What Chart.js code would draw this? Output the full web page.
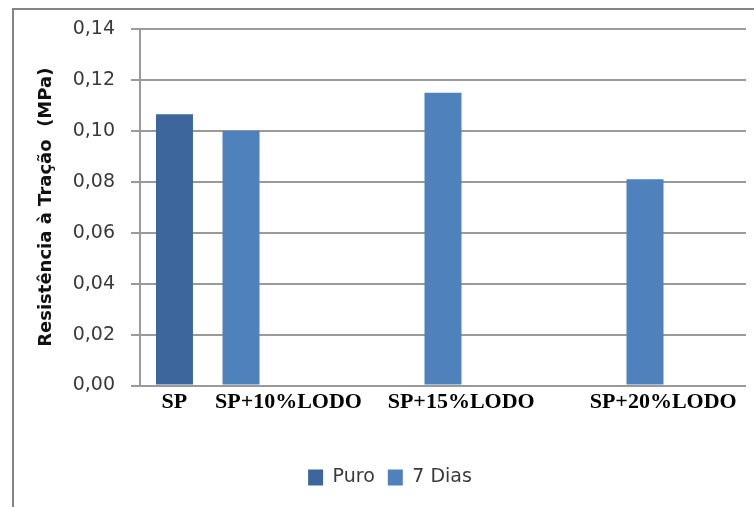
<!DOCTYPE html>
<html>
<head>
<meta charset="utf-8">
<script src="https://cdn.jsdelivr.net/npm/chart.js@4"></script>
<style>
  html, body { margin: 0; padding: 0; background: #fff; }
  #wrap { position: relative; width: 754px; height: 507px; }
</style>
</head>
<body>
<div id="wrap"><canvas id="c" width="754" height="507"></canvas></div>
<script>
// ---- data ----
const groups = ['G1', 'G2', 'G3'];                 // internal category slots
const xLabels = ['SP', 'SP+10%LODO', 'SP+15%LODO', 'SP+20%LODO'];
const puro = [0.1065, null, null];
const dias7 = [0.100, 0.115, 0.081];
const seriesNames = ['Puro', '7 Dias'];
const yTicks = [0, 0.02, 0.04, 0.06, 0.08, 0.10, 0.12, 0.14];

// label anchor positions along the category axis (in category units)
const labelAt = [-0.33, 0.235, 1.09, 2.09];

const gridColor = '#9a9a9a';

const framePlugin = {
  id: 'frame',
  afterDraw(chart) {
    const ctx = chart.ctx;
    ctx.save();
    ctx.strokeStyle = '#858585';
    ctx.lineWidth = 2;
    ctx.beginPath();
    ctx.moveTo(13, 507);
    ctx.lineTo(13, 9);
    ctx.lineTo(754, 9);
    ctx.stroke();
    ctx.restore();
  }
};

new Chart(document.getElementById('c'), {
  type: 'bar',
  data: {
    labels: groups,
    datasets: [
      { label: seriesNames[0], data: puro, backgroundColor: '#3D679C', categoryPercentage: 0.988, barPercentage: 0.556 },
      { label: seriesNames[1], data: dias7, backgroundColor: '#4F81BD', categoryPercentage: 0.988, barPercentage: 0.556 },
      { label: '', data: [null, null, null], backgroundColor: '#9BBB59', categoryPercentage: 0.988, barPercentage: 0.556 }
    ]
  },
  options: {
    responsive: false,
    animation: false,
    devicePixelRatio: 1,
    layout: { padding: { left: 34, right: 8, top: 29, bottom: 10 } },
    plugins: {
      legend: {
        position: 'bottom',
        labels: {
          filter: (item) => item.text !== '',
          boxWidth: 15,
          boxHeight: 16,
          padding: 13,
          color: '#3a3a3a',
          font: { family: 'DejaVu Sans', size: 19 }
        }
      },
      tooltip: { enabled: false }
    },
    scales: {
      x: { display: false },
      xl: {
        type: 'linear',
        position: 'bottom',
        offset: false,
        min: -0.5,
        max: 2.5,
        grid: { display: false, drawTicks: false },
        border: { display: false },
        afterBuildTicks: (scale) => { scale.ticks = labelAt.map(v => ({ value: v })); },
        afterFit: (scale) => { scale.height = 69.5; },
        ticks: {
          autoSkip: false,
          maxRotation: 0,
          padding: 4,
          color: '#000',
          font: { family: 'Liberation Serif', size: 22, weight: 'bold' },
          callback: (v, i) => xLabels[i]
        }
      },
      y: {
        min: 0,
        max: 0.14,
        afterBuildTicks: (scale) => { scale.ticks = yTicks.map(v => ({ value: v })); },
        afterFit: (scale) => { scale.width = 106; },
        grid: { color: gridColor, lineWidth: 2, tickLength: 9, tickColor: gridColor },
        border: { color: gridColor, width: 2 },
        ticks: {
          padding: 16,
          color: '#3a3a3a',
          font: { family: 'DejaVu Sans', size: 19 },
          callback: (v) => v.toFixed(2).replace('.', ',')
        },
        title: {
          display: true,
          text: 'Resistência à Tração  (MPa)',
          color: '#111',
          font: { family: 'DejaVu Sans', size: 18, weight: 'bold' },
          padding: { top: 2, bottom: 0 }
        }
      }
    }
  },
  plugins: [framePlugin]
});
</script>
</body>
</html>
